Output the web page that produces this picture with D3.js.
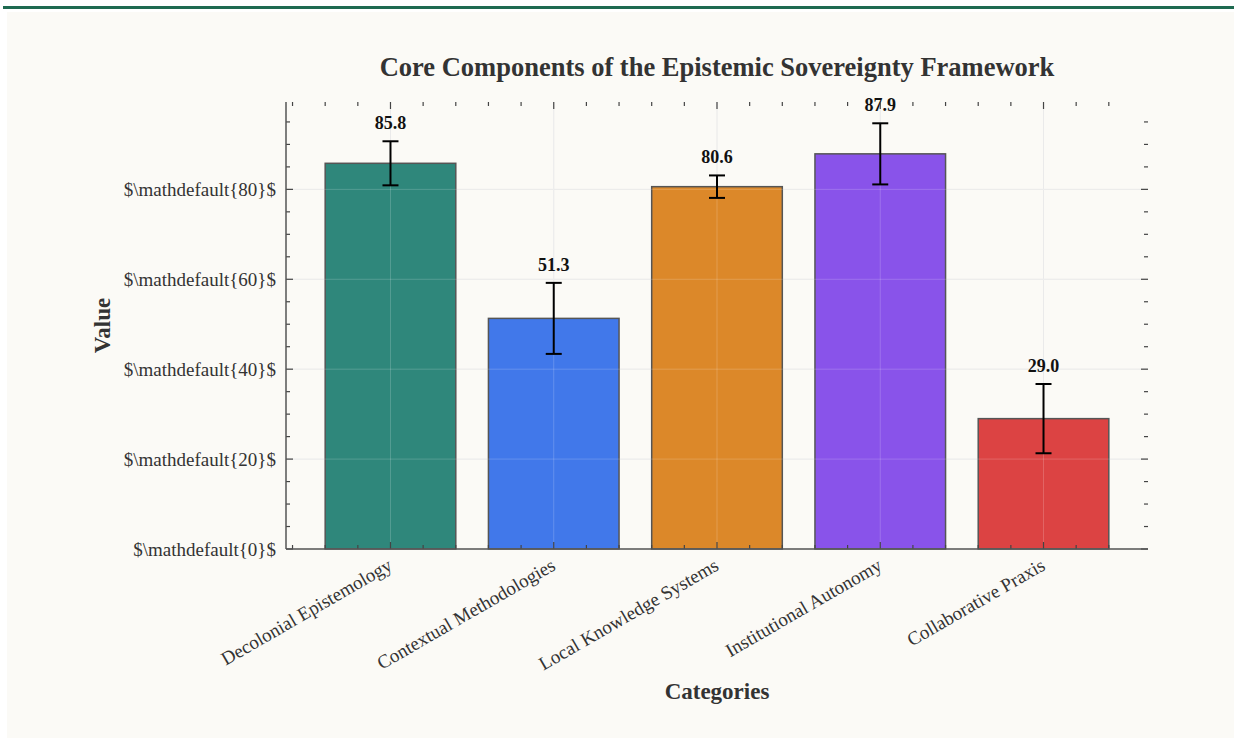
<!DOCTYPE html>
<html>
<head>
<meta charset="utf-8">
<script src="https://cdn.jsdelivr.net/npm/d3@7"></script>
<style>
  html, body { margin: 0; padding: 0; background: #ffffff; }
  #viewport { position: relative; width: 1234px; height: 738px; overflow: hidden; }
  svg text { font-family: "Liberation Serif", "DejaVu Serif", serif; }
</style>
</head>
<body>
<div id="viewport"></div>
<script>
// chart data
var categories = ["Decolonial Epistemology", "Contextual Methodologies", "Local Knowledge Systems",
                  "Institutional Autonomy", "Collaborative Praxis"];
var values = [85.8, 51.3, 80.6, 87.9, 29.0];
var errors = [4.9, 7.9, 2.5, 6.8, 7.7];
var colors = ["#2f877b", "#4178ea", "#dc8829", "#8953ea", "#dc4343"];
var yTicks = [0, 20, 40, 60, 80];

var W = 1234, H = 738;
var margin = {top: 102, right: 86, bottom: 189, left: 286};
var width = W - margin.left - margin.right,
    height = H - margin.top - margin.bottom;

var svg = d3.select("#viewport").append("svg")
    .attr("width", W)
    .attr("height", H);

// page frame: green rule and panel
svg.append("rect").attr("x", 3).attr("y", 6).attr("width", W - 3).attr("height", 3).attr("fill", "#1e6a50");
svg.append("rect").attr("x", 7).attr("y", 12).attr("width", W - 7).attr("height", H - 12).attr("fill", "#fbfaf6");

var g = svg.append("g")
    .attr("transform", "translate(" + margin.left + "," + margin.top + ")");

// linear x like matplotlib: bars at 0..n-1, width 0.8, 5% margins
var n = categories.length;
var lo = -0.4, hi = n - 1 + 0.4, pad = (hi - lo) * 0.05;
var x = d3.scaleLinear().domain([lo - pad, hi + pad]).range([0, width]);

var ymax = d3.max(values, function(d, i) { return d + errors[i]; }) * 1.05;
var y = d3.scaleLinear().domain([0, ymax]).range([height, 0]);

var idx = d3.range(n);
var xMinor = d3.range(-0.6, n - 0.4, 0.2).filter(function(v) { return Math.abs(v - Math.round(v)) > 1e-6; });
var yMinor = d3.range(0, ymax, 5).filter(function(v) { return v % 20 !== 0; });

// grid
g.append("g").selectAll("line").data(yTicks).enter().append("line")
    .attr("x1", 0).attr("x2", width)
    .attr("y1", function(d) { return y(d); }).attr("y2", function(d) { return y(d); })
    .attr("stroke", "#e6e6e6").attr("stroke-width", 1);
g.append("g").selectAll("line").data(idx).enter().append("line")
    .attr("y1", 0).attr("y2", height)
    .attr("x1", function(d) { return x(d); }).attr("x2", function(d) { return x(d); })
    .attr("stroke", "#e6e6e6").attr("stroke-width", 1);

// bars
g.selectAll("rect.bar").data(values).enter().append("rect")
    .attr("class", "bar")
    .attr("x", function(d, i) { return x(i - 0.4); })
    .attr("width", x(0.4) - x(-0.4))
    .attr("y", function(d) { return y(d); })
    .attr("height", function(d) { return height - y(d); })
    .attr("fill", function(d, i) { return colors[i]; })
    .attr("stroke", "#555555")
    .attr("stroke-width", 1.5);

// grid shows faintly over bars
g.append("g").selectAll("line").data(yTicks).enter().append("line")
    .attr("x1", 0).attr("x2", width)
    .attr("y1", function(d) { return y(d); }).attr("y2", function(d) { return y(d); })
    .attr("stroke", "#ffffff").attr("stroke-opacity", 0.18).attr("stroke-width", 1);
g.append("g").selectAll("line").data(idx).enter().append("line")
    .attr("y1", 0).attr("y2", height)
    .attr("x1", function(d) { return x(d); }).attr("x2", function(d) { return x(d); })
    .attr("stroke", "#ffffff").attr("stroke-opacity", 0.18).attr("stroke-width", 1);

// error bars
var eb = g.append("g").selectAll("g").data(values).enter().append("g");
eb.append("line")
    .attr("x1", function(d, i) { return x(i); }).attr("x2", function(d, i) { return x(i); })
    .attr("y1", function(d, i) { return y(d + errors[i]); })
    .attr("y2", function(d, i) { return y(d - errors[i]); })
    .attr("stroke", "#000").attr("stroke-width", 2);
[1, -1].forEach(function(s) {
    eb.append("line")
        .attr("x1", function(d, i) { return x(i) - 8; }).attr("x2", function(d, i) { return x(i) + 8; })
        .attr("y1", function(d, i) { return y(d + s * errors[i]); })
        .attr("y2", function(d, i) { return y(d + s * errors[i]); })
        .attr("stroke", "#000").attr("stroke-width", 2);
});

// value labels
g.selectAll("text.val").data(values).enter().append("text")
    .attr("class", "val")
    .attr("x", function(d, i) { return x(i); })
    .attr("y", function(d, i) { return y(d + errors[i]) - 12; })
    .attr("text-anchor", "middle")
    .attr("font-size", 18).attr("font-weight", "bold").attr("fill", "#111")
    .text(function(d) { return d.toFixed(1); });

// ticks (inward, on all four sides)
var tickColor = "#444";
function hTicks(vals, yy, len, dir) {
    g.append("g").selectAll("line").data(vals).enter().append("line")
        .attr("x1", function(d) { return x(d); }).attr("x2", function(d) { return x(d); })
        .attr("y1", yy).attr("y2", yy + dir * len)
        .attr("stroke", tickColor).attr("stroke-width", 1.2);
}
function vTicks(vals, xx, len, dir) {
    g.append("g").selectAll("line").data(vals).enter().append("line")
        .attr("y1", function(d) { return y(d); }).attr("y2", function(d) { return y(d); })
        .attr("x1", xx).attr("x2", xx + dir * len)
        .attr("stroke", tickColor).attr("stroke-width", 1.2);
}
hTicks(idx, height, 7, -1);
hTicks(xMinor, height, 4, -1);
hTicks(idx, 0, 7, 1);
hTicks(xMinor, 0, 4, 1);
vTicks(yTicks, 0, 7, 1);
vTicks(yMinor, 0, 4, 1);
vTicks(yTicks, width, 7, -1);
vTicks(yMinor, width, 4, -1);

// spines: left and bottom
g.append("line").attr("x1", 0).attr("x2", 0).attr("y1", 0).attr("y2", height)
    .attr("stroke", "#555").attr("stroke-width", 1.5);
g.append("line").attr("x1", 0).attr("x2", width).attr("y1", height).attr("y2", height)
    .attr("stroke", "#555").attr("stroke-width", 1.5);

// y tick labels
g.selectAll("text.ytl").data(yTicks).enter().append("text")
    .attr("class", "ytl")
    .attr("x", -10)
    .attr("y", function(d) { return y(d); })
    .attr("dy", "0.35em")
    .attr("text-anchor", "end")
    .attr("font-size", 19).attr("fill", "#333")
    .text(function(d) { return "$\\mathdefault{" + d + "}$"; });

// x tick labels, rotated
g.selectAll("text.xtl").data(categories).enter().append("text")
    .attr("class", "xtl")
    .attr("text-anchor", "end")
    .attr("font-size", 19).attr("fill", "#333")
    .attr("transform", function(d, i) { return "translate(" + (x(i) + 3) + "," + (height + 20) + ") rotate(-30)"; })
    .text(function(d) { return d; });

// axis titles and chart title
svg.append("text")
    .attr("x", margin.left + width / 2).attr("y", 76)
    .attr("text-anchor", "middle")
    .attr("font-size", 26.5).attr("font-weight", "bold").attr("fill", "#333")
    .text("Core Components of the Epistemic Sovereignty Framework");

svg.append("text")
    .attr("x", margin.left + width / 2).attr("y", 699)
    .attr("text-anchor", "middle")
    .attr("font-size", 23).attr("font-weight", "bold").attr("fill", "#333")
    .text("Categories");

svg.append("text")
    .attr("transform", "translate(110," + (margin.top + height / 2) + ") rotate(-90)")
    .attr("text-anchor", "middle")
    .attr("font-size", 23).attr("font-weight", "bold").attr("fill", "#333")
    .text("Value");
</script>
</body>
</html>
